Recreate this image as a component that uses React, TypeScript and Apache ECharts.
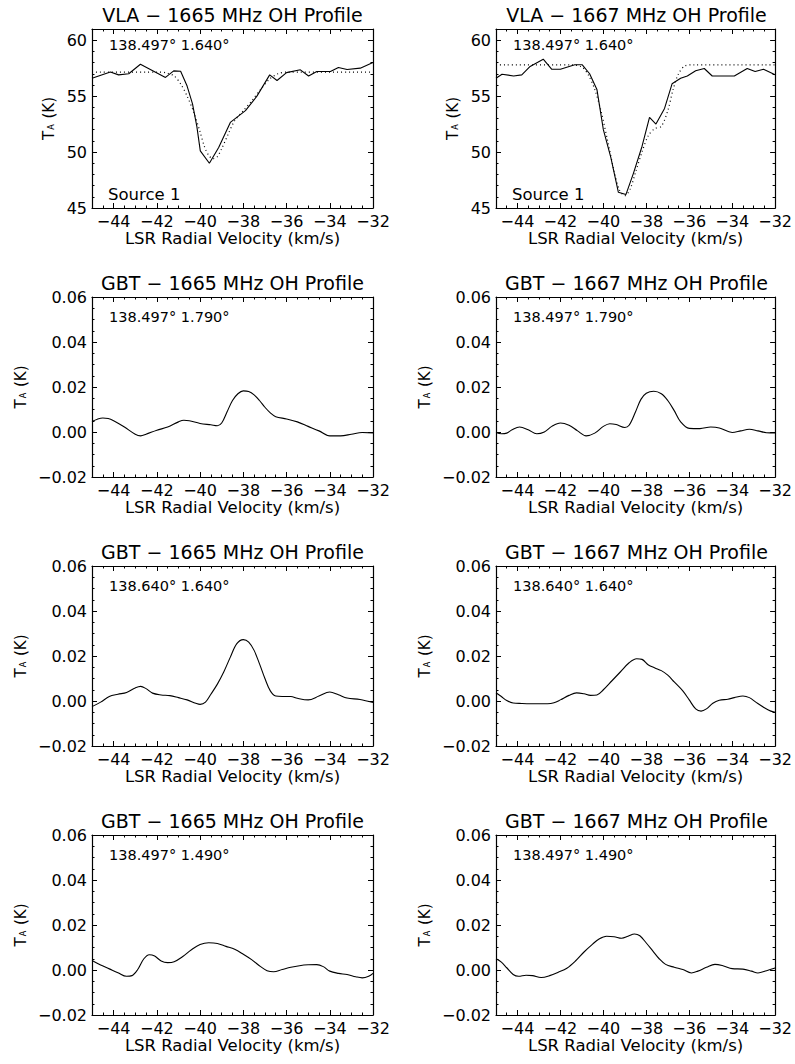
import React, { useEffect, useRef } from "react";
import * as echarts from "echarts";

// ---------- data (velocity km/s, T_A K) ----------
const VLA1665_SOLID: number[][] = [
  [-45.0, 56.6], [-44.15, 57.15], [-43.77, 56.9], [-43.3, 57.0], [-42.76, 57.85],
  [-41.6, 56.67], [-41.22, 57.26], [-40.9, 57.22], [-40.6, 55.9], [-40.35, 54.3],
  [-40.15, 52.3], [-39.99, 50.1], [-39.57, 49.0], [-39.14, 50.4], [-38.6, 52.65],
  [-37.9, 53.7], [-37.37, 55.0], [-36.78, 56.9], [-36.44, 56.4], [-36.0, 57.1],
  [-35.36, 57.35], [-34.98, 56.8], [-34.6, 57.2], [-33.97, 57.2], [-33.6, 57.56],
  [-33.2, 57.38], [-32.59, 57.5], [-32.0, 58.0],
];
const VLA1665_FIT: number[][] = [
  [-45.0, 57.15], [-42.0, 57.15], [-41.6, 57.1], [-41.2, 56.8], [-40.9, 56.1],
  [-40.6, 55.0], [-40.3, 53.6], [-40.0, 51.8], [-39.8, 50.5], [-39.6, 49.7],
  [-39.4, 49.4], [-39.2, 49.6], [-39.0, 50.3], [-38.7, 51.6], [-38.4, 52.8],
  [-38.0, 53.7], [-37.6, 54.6], [-37.2, 55.6], [-36.8, 56.5], [-36.4, 57.0],
  [-36.0, 57.15], [-32.0, 57.15],
];
const VLA1667_SOLID: number[][] = [
  [-45.0, 56.6], [-44.72, 56.96], [-44.18, 56.8], [-43.8, 56.9], [-43.41, 57.65],
  [-42.8, 58.3], [-42.4, 57.4], [-42.0, 57.4], [-41.33, 57.8], [-40.98, 57.8],
  [-40.64, 57.0], [-40.3, 55.6], [-40.0, 52.0], [-39.65, 49.5], [-39.3, 46.4],
  [-38.95, 46.2], [-38.6, 48.1], [-38.2, 50.5], [-37.85, 53.1], [-37.55, 52.5],
  [-37.15, 53.9], [-36.8, 56.1], [-36.4, 56.6], [-36.09, 56.8], [-35.7, 57.26],
  [-35.3, 57.47], [-34.93, 56.8], [-34.3, 56.8], [-33.9, 56.8], [-33.3, 57.47],
  [-32.93, 57.2], [-32.54, 57.4], [-32.0, 56.9],
];
const VLA1667_FIT: number[][] = [
  [-45.0, 57.8], [-41.5, 57.8], [-41.0, 57.6], [-40.7, 56.9], [-40.4, 55.6],
  [-40.1, 53.6], [-39.8, 51.0], [-39.5, 48.3], [-39.25, 46.6], [-39.0, 46.1],
  [-38.75, 46.7], [-38.5, 48.2], [-38.2, 50.0], [-37.9, 51.5], [-37.6, 52.1],
  [-37.3, 52.3], [-37.0, 53.7], [-36.75, 55.6], [-36.5, 57.0], [-36.2, 57.7],
  [-35.8, 57.8], [-32.0, 57.8],
];
const GBT1665_1790: number[][] = [
  [-45.0, 0.0047], [-44.75, 0.0057], [-44.5, 0.0062], [-44.25, 0.006], [-44.0, 0.005],
  [-43.5, 0.0022], [-43.0, -0.001], [-42.75, -0.0017], [-42.5, -0.001], [-42.0, 0.0008],
  [-41.5, 0.0022], [-41.0, 0.0045], [-40.75, 0.0052], [-40.5, 0.005], [-40.0, 0.0038],
  [-39.5, 0.0032], [-39.2, 0.0028], [-39.0, 0.004], [-38.75, 0.009], [-38.5, 0.014],
  [-38.25, 0.017], [-38.0, 0.0183], [-37.75, 0.018], [-37.5, 0.0165], [-37.25, 0.014],
  [-37.0, 0.011], [-36.75, 0.0085], [-36.5, 0.0068], [-36.0, 0.0058], [-35.5, 0.0045],
  [-35.0, 0.0025], [-34.5, 0.0005], [-34.0, -0.0017], [-33.5, -0.0017], [-33.0, -0.001],
  [-32.5, -0.0002], [-32.0, -0.0004],
];
const GBT1667_1790: number[][] = [
  [-45.0, -0.0002], [-44.75, -0.0008], [-44.5, -0.0005], [-44.25, 0.001], [-43.9, 0.0022],
  [-43.5, 0.001], [-43.1, -0.0008], [-42.75, 0.0], [-42.4, 0.0025], [-42.0, 0.004],
  [-41.6, 0.003], [-41.2, 0.0005], [-40.8, -0.0017], [-40.4, -0.0005], [-40.0, 0.0025],
  [-39.7, 0.0037], [-39.4, 0.0033], [-39.0, 0.002], [-38.8, 0.003], [-38.5, 0.009],
  [-38.25, 0.0145], [-38.0, 0.0172], [-37.65, 0.0181], [-37.3, 0.017], [-37.0, 0.014],
  [-36.7, 0.0095], [-36.4, 0.0045], [-36.0, 0.0016], [-35.5, 0.0015], [-35.0, 0.0022],
  [-34.6, 0.0018], [-34.0, -0.0002], [-33.6, 0.0005], [-33.2, 0.0012], [-32.8, 0.0005],
  [-32.4, -0.0003], [-32.0, -0.0004],
];
const GBT1665_1640: number[][] = [
  [-45.0, -0.0025], [-44.6, -0.0005], [-44.2, 0.002], [-43.8, 0.003], [-43.4, 0.0038],
  [-43.0, 0.0058], [-42.75, 0.0065], [-42.5, 0.0055], [-42.2, 0.0035], [-41.8, 0.0027],
  [-41.4, 0.0024], [-41.0, 0.0015], [-40.6, 0.0005], [-40.2, -0.001], [-40.0, -0.0015],
  [-39.75, -0.0005], [-39.5, 0.003], [-39.2, 0.0075], [-38.9, 0.013], [-38.6, 0.0195],
  [-38.3, 0.0255], [-38.0, 0.0273], [-37.75, 0.0262], [-37.5, 0.0225], [-37.25, 0.0165],
  [-37.0, 0.01], [-36.75, 0.0045], [-36.5, 0.0022], [-36.2, 0.002], [-35.8, 0.002],
  [-35.5, 0.0012], [-35.0, 0.0005], [-34.5, 0.0022], [-34.0, 0.004], [-33.6, 0.0028],
  [-33.2, 0.0013], [-32.6, 0.0007], [-32.0, -0.0007],
];
const GBT1667_1640: number[][] = [
  [-45.0, 0.0037], [-44.75, 0.002], [-44.5, 0.0002], [-44.2, -0.0009], [-43.8, -0.0011],
  [-43.4, -0.0012], [-43.0, -0.0012], [-42.6, -0.0012], [-42.3, -0.0008], [-42.0, 0.0005],
  [-41.6, 0.0025], [-41.25, 0.0036], [-40.9, 0.0032], [-40.6, 0.0025], [-40.3, 0.0027],
  [-40.0, 0.005], [-39.6, 0.009], [-39.2, 0.013], [-38.8, 0.017], [-38.45, 0.0188],
  [-38.2, 0.0185], [-37.9, 0.016], [-37.6, 0.0147], [-37.3, 0.0135], [-37.0, 0.0115],
  [-36.7, 0.0085], [-36.3, 0.0045], [-36.0, 0.0005], [-35.7, -0.0035], [-35.45, -0.0045],
  [-35.2, -0.0035], [-34.9, -0.001], [-34.6, 0.0003], [-34.2, 0.0008], [-33.9, 0.0015],
  [-33.5, 0.0022], [-33.2, 0.0015], [-32.9, -0.0005], [-32.5, -0.003], [-32.2, -0.0045],
  [-32.0, -0.005],
];
const GBT1665_1490: number[][] = [
  [-45.0, 0.0042], [-44.6, 0.0022], [-44.2, 0.0005], [-43.8, -0.0012], [-43.4, -0.0028],
  [-43.15, -0.0025], [-42.9, 0.0], [-42.6, 0.005], [-42.35, 0.0068], [-42.1, 0.0062],
  [-41.8, 0.004], [-41.5, 0.0033], [-41.2, 0.0037], [-40.8, 0.006], [-40.4, 0.009],
  [-40.0, 0.0113], [-39.6, 0.0121], [-39.2, 0.0118], [-38.8, 0.0105], [-38.4, 0.0092],
  [-38.0, 0.007], [-37.6, 0.0045], [-37.2, 0.0015], [-36.9, -0.0003], [-36.6, -0.0008],
  [-36.2, 0.0002], [-35.8, 0.0012], [-35.4, 0.0019], [-35.0, 0.0023], [-34.6, 0.0024],
  [-34.3, 0.0015], [-34.0, -0.0005], [-33.6, -0.0015], [-33.2, -0.002], [-32.8, -0.003],
  [-32.5, -0.0035], [-32.2, -0.0028], [-32.0, -0.0015],
];
const GBT1667_1490: number[][] = [
  [-45.0, 0.005], [-44.75, 0.0035], [-44.5, 0.001], [-44.2, -0.002], [-43.95, -0.0028],
  [-43.6, -0.0023], [-43.3, -0.0025], [-42.9, -0.0033], [-42.5, -0.0025], [-42.1, -0.001],
  [-41.7, 0.0008], [-41.3, 0.004], [-40.9, 0.008], [-40.5, 0.0115], [-40.2, 0.0138],
  [-39.85, 0.015], [-39.5, 0.0148], [-39.15, 0.0141], [-38.85, 0.015], [-38.55, 0.016],
  [-38.3, 0.0152], [-38.0, 0.012], [-37.7, 0.0085], [-37.4, 0.005], [-37.1, 0.0025],
  [-36.7, 0.0012], [-36.3, 0.0002], [-35.9, -0.0013], [-35.6, -0.0005], [-35.2, 0.0012],
  [-34.8, 0.0025], [-34.4, 0.0018], [-34.0, 0.0006], [-33.5, 0.0004], [-33.1, -0.0005],
  [-32.8, -0.0013], [-32.4, -0.0003], [-32.0, 0.0009],
];

// ---------- axis ticks ----------
const X_RANGE = [-45, -32];
const X_MAJOR = [-44, -42, -40, -38, -36, -34, -32];
const X_MINOR = [-44.5, -43.5, -43, -42.5, -41.5, -41, -40.5, -39.5, -39, -38.5, -37.5, -37, -36.5, -35.5, -35, -34.5, -33.5, -33, -32.5];
const VLA_Y_RANGE = [45, 61];
const VLA_Y_MAJOR = [45, 50, 55, 60];
const VLA_Y_MINOR = [46, 47, 48, 49, 51, 52, 53, 54, 56, 57, 58, 59];
const GBT_Y_RANGE = [-0.02, 0.06];
const GBT_Y_MAJOR = [-0.02, 0, 0.02, 0.04, 0.06];
const GBT_Y_MINOR = [-0.015, -0.01, -0.005, 0.005, 0.01, 0.015, 0.025, 0.03, 0.035, 0.045, 0.05, 0.055];

const TITLES = [
  "VLA − 1665 MHz OH Profile", "VLA − 1667 MHz OH Profile",
  "GBT − 1665 MHz OH Profile", "GBT − 1667 MHz OH Profile",
  "GBT − 1665 MHz OH Profile", "GBT − 1667 MHz OH Profile",
  "GBT − 1665 MHz OH Profile", "GBT − 1667 MHz OH Profile",
];
const COORDS = [
  "138.497° 1.640°", "138.497° 1.640°",
  "138.497° 1.790°", "138.497° 1.790°",
  "138.640° 1.640°", "138.640° 1.640°",
  "138.497° 1.490°", "138.497° 1.490°",
];
const SOLID = [VLA1665_SOLID, VLA1667_SOLID, GBT1665_1790, GBT1667_1790, GBT1665_1640, GBT1667_1640, GBT1665_1490, GBT1667_1490];
const FITS = [VLA1665_FIT, VLA1667_FIT];
const SOURCE_LABEL = "Source 1";
const X_NAME = "LSR Radial Velocity (km/s)";

// ---------- layout ----------
const COL_LEFT = [92, 496];
const PW = 281;
const ROW_TOP = [29, 297, 566, 835];
const ROW_H = [179, 180, 180, 180];
const FONT = '"DejaVu Sans", "Liberation Sans", sans-serif';

const minus = (s: string) => s.replace("-", "−");
const fmtX = (v: number) => minus(String(Math.round(v)));
const fmtVla = (v: number) => String(Math.round(v));
const fmtGbt = (v: number) => {
  const a = Math.abs(v) < 1e-9 ? 0 : v;
  return minus(a.toFixed(2));
};

function buildOption() {
  const grid: any[] = [];
  const xAxis: any[] = [];
  const yAxis: any[] = [];
  const series: any[] = [];
  const graphic: any[] = [];
  const lineStyle = { color: "#000", width: 1.2 };
  const tickStyle = { color: "#000", width: 1 };

  for (let i = 0; i < 8; i++) {
    const row = Math.floor(i / 2);
    const col = i % 2;
    const left = COL_LEFT[col];
    const top = ROW_TOP[row];
    const h = ROW_H[row];
    const vla = row === 0;
    grid.push({ left, top, width: PW, height: h });

    const xb = xAxis.length;
    const xc = { type: "value", gridIndex: i, min: X_RANGE[0], max: X_RANGE[1], splitLine: { show: false }, silent: true };
    xAxis.push({
      ...xc, position: "bottom",
      axisLine: { show: true, onZero: false, lineStyle },
      axisTick: { show: true, inside: true, length: 5, customValues: X_MAJOR, lineStyle: tickStyle },
      axisLabel: { show: true, customValues: X_MAJOR, formatter: fmtX, margin: 5, fontSize: 16, fontFamily: FONT, color: "#000" },
      name: X_NAME, nameLocation: "middle", nameGap: 19,
      nameTextStyle: { fontSize: 16.5, fontFamily: FONT, color: "#000" },
    });
    xAxis.push({
      ...xc, position: "bottom",
      axisLine: { show: false, onZero: false },
      axisTick: { show: true, inside: true, length: 2.5, customValues: X_MINOR, lineStyle: tickStyle },
      axisLabel: { show: false },
    });
    xAxis.push({
      ...xc, position: "top",
      axisLine: { show: true, onZero: false, lineStyle },
      axisTick: { show: true, inside: true, length: 5, customValues: X_MAJOR, lineStyle: tickStyle },
      axisLabel: { show: false },
    });
    xAxis.push({
      ...xc, position: "top",
      axisLine: { show: false, onZero: false },
      axisTick: { show: true, inside: true, length: 2.5, customValues: X_MINOR, lineStyle: tickStyle },
      axisLabel: { show: false },
    });

    const yr = vla ? VLA_Y_RANGE : GBT_Y_RANGE;
    const ymaj = vla ? VLA_Y_MAJOR : GBT_Y_MAJOR;
    const ymin = vla ? VLA_Y_MINOR : GBT_Y_MINOR;
    const yb = yAxis.length;
    const yc = { type: "value", gridIndex: i, min: yr[0], max: yr[1], splitLine: { show: false }, silent: true };
    yAxis.push({
      ...yc, position: "left",
      axisLine: { show: true, onZero: false, lineStyle },
      axisTick: { show: true, inside: true, length: 5, customValues: ymaj, lineStyle: tickStyle },
      axisLabel: { show: true, customValues: ymaj, formatter: vla ? fmtVla : fmtGbt, margin: 5, fontSize: 16, fontFamily: FONT, color: "#000" },
      name: "{t|T}{s|A}{t| (K)}", nameLocation: "middle", nameGap: vla ? 36 : 64,
      nameTextStyle: {
        fontSize: 15, fontFamily: FONT, color: "#000",
        rich: {
          t: { fontSize: 15, fontFamily: FONT, color: "#000" },
          s: { fontSize: 8, fontFamily: FONT, color: "#000", padding: [6, 1, 0, 1] },
        },
      },
    });
    yAxis.push({
      ...yc, position: "left",
      axisLine: { show: false, onZero: false },
      axisTick: { show: true, inside: true, length: 2.5, customValues: ymin, lineStyle: tickStyle },
      axisLabel: { show: false },
    });
    yAxis.push({
      ...yc, position: "right",
      axisLine: { show: true, onZero: false, lineStyle },
      axisTick: { show: true, inside: true, length: 5, customValues: ymaj, lineStyle: tickStyle },
      axisLabel: { show: false },
    });
    yAxis.push({
      ...yc, position: "right",
      axisLine: { show: false, onZero: false },
      axisTick: { show: true, inside: true, length: 2.5, customValues: ymin, lineStyle: tickStyle },
      axisLabel: { show: false },
    });

    series.push({
      type: "line", xAxisIndex: xb, yAxisIndex: yb, data: SOLID[i],
      showSymbol: false, symbol: "none", silent: true,
      smooth: vla ? false : 0.35,
      lineStyle: { color: "#000", width: 1.1 },
    });
    if (vla) {
      series.push({
        type: "line", xAxisIndex: xb, yAxisIndex: yb, data: FITS[col],
        showSymbol: false, symbol: "none", silent: true, smooth: 0.3,
        lineStyle: { color: "#000", width: 1.2, type: [1, 3] },
      });
    }

    const cx = left + PW / 2;
    graphic.push({
      type: "text", x: cx, y: top - 14.5, silent: true,
      style: { text: TITLES[i], fill: "#000", font: `19px ${FONT}`, textAlign: "center", textVerticalAlign: "middle", align: "center", verticalAlign: "middle" },
    });
    graphic.push({
      type: "text", x: left + 17, y: top + (vla ? 15.5 : 20), silent: true,
      style: { text: COORDS[i], fill: "#000", font: `14.5px ${FONT}`, textAlign: "left", textVerticalAlign: "middle", align: "left", verticalAlign: "middle" },
    });
    if (vla) {
      graphic.push({
        type: "text", x: left + 16, y: top + h - 14, silent: true,
        style: { text: SOURCE_LABEL, fill: "#000", font: `16.5px ${FONT}`, textAlign: "left", textVerticalAlign: "middle", align: "left", verticalAlign: "middle" },
      });
    }
  }

  return {
    animation: false,
    backgroundColor: "#fff",
    grid, xAxis, yAxis, series, graphic,
  };
}

export default function App() {
  const ref = useRef<HTMLDivElement>(null);
  useEffect(() => {
    document.body.style.margin = "0";
    if (!ref.current) return;
    const chart = echarts.init(ref.current, undefined, { renderer: "svg" });
    chart.setOption(buildOption() as any);
    return () => chart.dispose();
  }, []);
  return <div ref={ref} style={{ width: 795, height: 1064, background: "#fff" }} />;
}
